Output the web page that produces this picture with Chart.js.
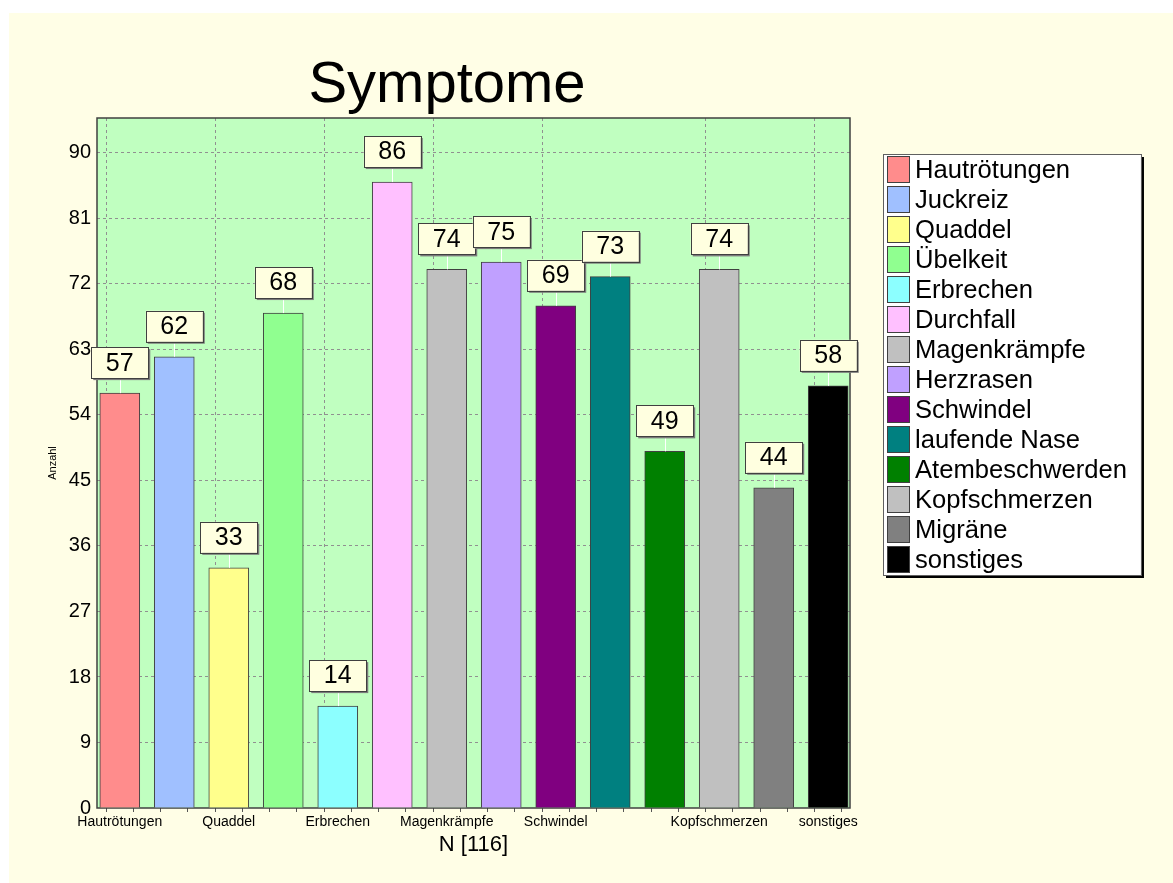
<!DOCTYPE html>
<html>
<head>
<meta charset="utf-8">
<script src="https://cdn.jsdelivr.net/npm/chart.js@4.4.1/dist/chart.umd.min.js"></script>
<style>
    html, body { margin: 0; padding: 0; background: #ffffff; }
    #wrap { position: absolute; left: 9px; top: 13px; width: 1164px; height: 870px; background: #FFFEE6; }
</style>
</head>
<body>
<div id="wrap"><canvas id="symChart"></canvas></div>
<script>
// data
const labels = ["Hautrötungen", "Juckreiz", "Quaddel", "Übelkeit", "Erbrechen", "Durchfall", "Magenkrämpfe",
    "Herzrasen", "Schwindel", "laufende Nase", "Atembeschwerden", "Kopfschmerzen", "Migräne", "sonstiges"];
const counts = [57, 62, 33, 68, 14, 86, 74, 75, 69, 73, 49, 74, 44, 58];
const barColors = ["#FF8C8C", "#A0C0FF", "#FFFF8C", "#90FF90", "#8CFFFF", "#FFC0FF", "#C0C0C0",
    "#C0A0FF", "#800080", "#008080", "#008000", "#C0C0C0", "#808080", "#000000"];
const xTickIdx = [0, 2, 4, 6, 8, 11, 13];   // labels the original shows under the axis
const yStep = 9;
const yMax = 94.8;

const FONT = "'Liberation Sans', Arial, sans-serif";

// green plot background + dark frame
const plotFrame = {
    id: "plotFrame",
    beforeDraw(chart) {
        const { ctx, chartArea: a } = chart;
        ctx.save();
        ctx.fillStyle = "#C0FFC0";
        ctx.fillRect(a.left, a.top, a.width, a.height);
        ctx.restore();
    },
    beforeDatasetsDraw(chart) {
        const { ctx, chartArea: a } = chart;
        ctx.save();
        ctx.strokeStyle = "#404040";
        ctx.lineWidth = 1.5;
        ctx.strokeRect(a.left, a.top, a.width, a.height);
        ctx.restore();
    }
};

// big title
const bigTitle = {
    id: "bigTitle",
    afterDraw(chart) {
        const ctx = chart.ctx;
        ctx.save();
        ctx.font = "58px " + FONT;
        ctx.fillStyle = "#000";
        ctx.textAlign = "center";
        ctx.textBaseline = "alphabetic";
        ctx.fillText("Symptome", chart.chartArea.left + 350, 89);
        ctx.restore();
    }
};

// value boxes over the bars
const valueBoxes = {
    id: "valueBoxes",
    afterDatasetsDraw(chart) {
        const ctx = chart.ctx;
        const meta = chart.getDatasetMeta(0);
        const w = 57, h = 31, gap = 15;
        ctx.save();
        meta.data.forEach((bar, i) => {
            const cx = bar.x, top = bar.y;
            const bx = cx - w / 2, by = top - gap - h;

            ctx.strokeStyle = "#ffffff";
            ctx.lineWidth = 1;
            ctx.beginPath();
            ctx.moveTo(Math.round(cx) + 0.5, by + h);
            ctx.lineTo(Math.round(cx) + 0.5, top);
            ctx.stroke();

            ctx.fillStyle = "#7a7a7a";
            ctx.fillRect(bx + 2, by + 2, w, h);
            ctx.fillStyle = "#FFFFE0";
            ctx.fillRect(bx, by, w, h);
            ctx.strokeStyle = "#404040";
            ctx.strokeRect(Math.round(bx) + 0.5, Math.round(by) + 0.5, w, h);

            ctx.fillStyle = "#000";
            ctx.font = "25px " + FONT;
            ctx.textAlign = "center";
            ctx.textBaseline = "middle";
            ctx.fillText(String(counts[i]), cx, by + h / 2 + 1);
        });
        ctx.restore();
    }
};

// boxed legend on the right
const boxLegend = {
    id: "boxLegend",
    afterDraw(chart) {
        const ctx = chart.ctx;
        const a = chart.chartArea;
        const left = a.right + 33, top = a.top + 36;
        const rowH = 30, sw = 23, sh = 27;
        ctx.save();
        ctx.font = "25.6px " + FONT;
        const maxW = Math.max(...labels.map(l => ctx.measureText(l).width));
        const boxW = 4 + sw + 5 + maxW + 14;
        const boxH = labels.length * rowH + 1;

        ctx.fillStyle = "#000";
        ctx.fillRect(left + 3, top + 3, boxW, boxH);
        ctx.fillStyle = "#ffffff";
        ctx.fillRect(left, top, boxW, boxH);
        ctx.strokeStyle = "#606060";
        ctx.lineWidth = 1;
        ctx.strokeRect(left + 0.5, top + 0.5, boxW, boxH);

        labels.forEach((lab, i) => {
            const y = top + 2 + i * rowH;
            ctx.fillStyle = barColors[i];
            ctx.fillRect(left + 4, y, sw, sh);
            ctx.strokeStyle = "#404040";
            ctx.strokeRect(left + 4.5, y + 0.5, sw - 1, sh - 1);
            ctx.fillStyle = "#000";
            ctx.textAlign = "left";
            ctx.textBaseline = "alphabetic";
            ctx.fillText(lab, left + 4 + sw + 5, y + 22);
        });
        ctx.restore();
    }
};

const ctx = document.getElementById("symChart").getContext("2d");

new Chart(ctx, {
    type: "bar",
    data: {
        labels: labels,
        datasets: [{
            data: counts.map((v, i) => ({ x: i, y: v })),
            backgroundColor: barColors,
            borderColor: "#404040",
            borderWidth: 1,
            barThickness: 40
        }]
    },
    options: {
        responsive: true,
        maintainAspectRatio: false,
        animation: false,
        layout: { padding: { top: 105, right: 323, left: 0, bottom: 0 } },
        plugins: {
            legend: { display: false },
            title: { display: false },
            tooltip: { enabled: false }
        },
        scales: {
            x: {
                type: "linear",
                min: -0.418,
                max: 13.4,
                offset: false,
                afterFit: (s) => { s.height = 75; },
                ticks: {
                    stepSize: 0.5,
                    maxTicksLimit: 100,
                    includeBounds: false,
                    autoSkip: false,
                    maxRotation: 0,
                    padding: 2,
                    color: "#000",
                    font: { family: FONT, size: 14 },
                    callback: (v) => (Number.isInteger(v) && xTickIdx.includes(v)) ? labels[v] : ""
                },
                grid: {
                    drawTicks: true,
                    tickLength: 4,
                    tickColor: "#555555",
                    color: (c) => (c.tick && Number.isInteger(c.tick.value) && xTickIdx.includes(c.tick.value)) ? "#909090" : "rgba(0,0,0,0)"
                },
                border: { display: false, dash: [3, 3] },
                title: {
                    display: true,
                    text: "N [116]",
                    color: "#000",
                    font: { family: FONT, size: 22 },
                    padding: { top: 0, bottom: 25 }
                }
            },
            y: {
                min: 0,
                max: yMax,
                afterFit: (s) => { s.width = 88; },
                ticks: {
                    stepSize: yStep,
                    includeBounds: false,
                    padding: 6,
                    color: "#000",
                    font: { family: FONT, size: 20 }
                },
                grid: {
                    drawTicks: false,
                    color: (c) => c.tick && c.tick.value === 0 ? "rgba(0,0,0,0)" : "#909090"
                },
                border: { display: false, dash: [3, 3] },
                title: {
                    display: true,
                    text: "Anzahl",
                    color: "#000",
                    font: { family: FONT, size: 11 },
                    padding: { top: 37, bottom: 0 }
                }
            }
        }
    },
    plugins: [plotFrame, valueBoxes, boxLegend, bigTitle]
});
</script>
</body>
</html>
